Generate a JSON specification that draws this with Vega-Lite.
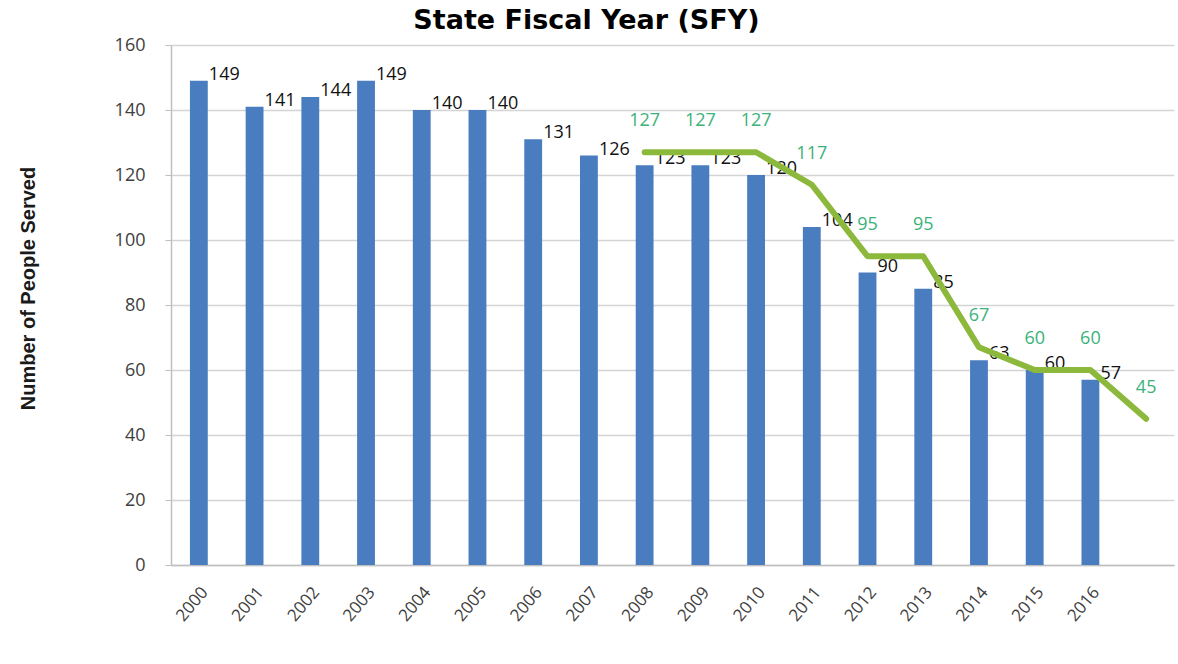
{
  "$schema": "https://vega.github.io/schema/vega-lite/v6.json",
  "autosize": {"type": "none"},
  "width": 1003,
  "height": 520,
  "padding": {"left": 171, "top": 45, "right": 4, "bottom": 99},
  "background": "white",
  "title": {
    "text": "State Fiscal Year (SFY)",
    "font": "DejaVu Sans",
    "fontSize": 27,
    "fontWeight": "bold",
    "color": "#000000",
    "anchor": "middle",
    "dx": -86,
    "offset": 1
  },
  "config": {
    "view": {"stroke": null},
    "axis": {"labelFont": "Open Sans", "labelFontSize": 18, "labelColor": "#404040", "titleFont": "Liberation Sans"}
  },
  "data": {
    "values": [
      {"year": "2000", "served": 149, "target": null},
      {"year": "2001", "served": 141, "target": null},
      {"year": "2002", "served": 144, "target": null},
      {"year": "2003", "served": 149, "target": null},
      {"year": "2004", "served": 140, "target": null},
      {"year": "2005", "served": 140, "target": null},
      {"year": "2006", "served": 131, "target": null},
      {"year": "2007", "served": 126, "target": null},
      {"year": "2008", "served": 123, "target": 127},
      {"year": "2009", "served": 123, "target": 127},
      {"year": "2010", "served": 120, "target": 127},
      {"year": "2011", "served": 104, "target": 117},
      {"year": "2012", "served": 90, "target": 95},
      {"year": "2013", "served": 85, "target": 95},
      {"year": "2014", "served": 63, "target": 67},
      {"year": "2015", "served": 60, "target": 60},
      {"year": "2016", "served": 57, "target": 60},
      {"year": "2017", "served": null, "target": 45}
    ]
  },
  "encoding": {
    "x": {
      "field": "year",
      "type": "nominal",
      "sort": null,
      "scale": {"paddingInner": 0.68, "paddingOuter": 0.34},
      "axis": {
        "title": null,
        "labelAngle": -50,
        "labelAlign": "right",
        "labelBaseline": "middle",
        "labelPadding": 24,
        "labelOffset": 6,
        "labelFontSize": 17,
        "labelExpr": "datum.value == '2017' ? '' : datum.value",
        "ticks": false,
        "domainColor": "#bfbfbf",
        "domainWidth": 1.5,
        "grid": false
      }
    }
  },
  "layer": [
    {
      "mark": {"type": "bar", "color": "#4a7dbf"},
      "encoding": {
        "y": {
          "field": "served",
          "type": "quantitative",
          "scale": {"domain": [0, 160], "nice": false},
          "axis": {
            "values": [0, 20, 40, 60, 80, 100, 120, 140, 160],
            "title": "Number of People Served",
            "titleFontSize": 20,
            "titleFontWeight": "bold",
            "titleColor": "#1a1a1a",
            "titleAngle": -90,
            "titleX": -143,
            "titleY": 243,
            "titleAlign": "center",
            "titleBaseline": "middle",
            "gridColor": "#d4d4d4",
            "gridWidth": 1.5,
            "domainColor": "#bfbfbf",
            "domainWidth": 1.5,
            "tickColor": "#bfbfbf",
            "tickSize": 6,
            "labelPadding": 20
          }
        }
      }
    },
    {
      "mark": {"type": "text", "align": "left", "baseline": "bottom", "dx": 10, "dy": 3, "font": "Open Sans", "fontSize": 18, "color": "#111111"},
      "encoding": {
        "y": {"field": "served", "type": "quantitative"},
        "text": {"field": "served", "type": "quantitative"}
      }
    },
    {
      "transform": [{"filter": "datum.target != null"}],
      "mark": {"type": "line", "color": "#8cb83c", "strokeWidth": 6, "interpolate": "linear", "strokeCap": "round", "strokeJoin": "round"},
      "encoding": {
        "y": {"field": "target", "type": "quantitative"}
      }
    },
    {
      "transform": [{"filter": "datum.target != null"}],
      "mark": {"type": "text", "align": "center", "baseline": "bottom", "dy": -22, "font": "Open Sans", "fontSize": 18, "color": "#3bb27a"},
      "encoding": {
        "y": {"field": "target", "type": "quantitative"},
        "text": {"field": "target", "type": "quantitative"}
      }
    }
  ]
}
